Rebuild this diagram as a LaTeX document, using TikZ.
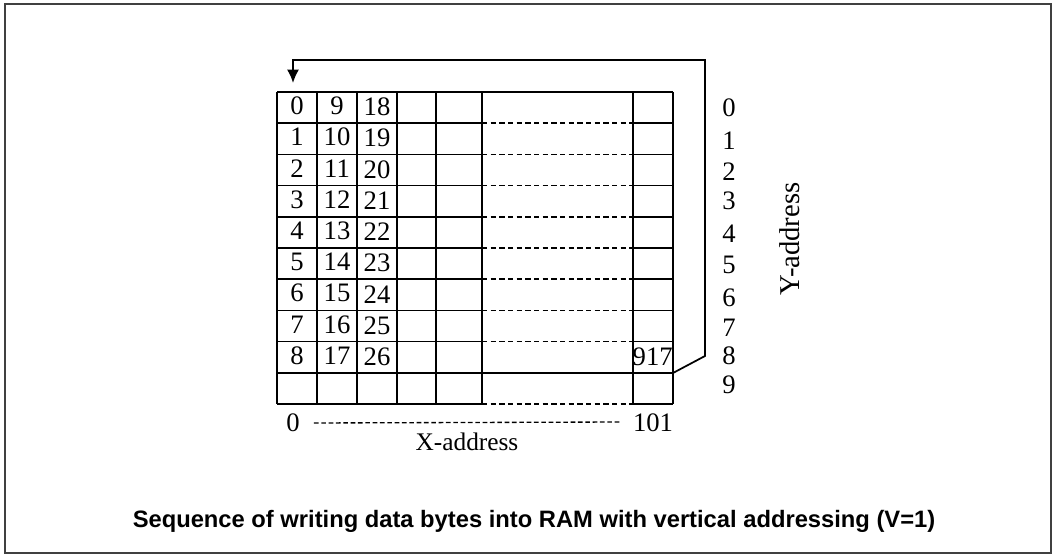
\documentclass[tikz,border=0pt]{standalone}
\usepackage{fontspec}
\setmainfont{Liberation Serif}
\setsansfont{Liberation Sans}
\usetikzlibrary{arrows.meta}

\begin{document}
\begin{tikzpicture}[x=0.75pt,y=-0.75pt,
        grid/.style={line width=1.3pt},
        gap/.style={line width=1.2pt,dash pattern=on 4pt off 2.5pt},
        num/.style={font=\fontsize{20}{20}\selectfont,inner sep=0pt}]
                \useasboundingbox (0,0) rectangle (1056,555);
                \draw[line width=0.8pt,black!75] (5,4) rectangle (1051,553);

                \foreach \c in {277,317,357,397,436,482,633,673}
                    \draw[grid] (\c,92) -- (\c,404);
                \draw[grid] (277,92) -- (673,92);
                \draw[grid] (277,373) -- (673,373);
                \foreach \r in {1,...,8,10} {
                    \draw[grid] (277,{92+31.2*\r}) -- (482,{92+31.2*\r});
                    \draw[gap] (482,{92+31.2*\r}) -- (633,{92+31.2*\r});
                    \draw[grid] (633,{92+31.2*\r}) -- (673,{92+31.2*\r});
                }

                \foreach \r in {0,...,8} {
                    \pgfmathtruncatemacro{\b}{\r+9}
                    \pgfmathtruncatemacro{\d}{\r+18}
                    \node[num] (a\r) at (297,{106+31.2*\r}) {\r};
                    \node[num] (b\r) at (337,{106+31.2*\r}) {\b};
                    \node[num] (d\r) at (377,{107+31.2*\r}) {\d};
                }
                \node[num,anchor=east] (last) at (673,357) {917};

                \foreach \r/\y in {0/108,1/141,2/172,3/201,4/234,5/265,6/298,7/328,8/356,9/385}
                    \node[num] (y\r) at (729,\y) {\r};
                \node[font=\fontsize{21.5}{21.5}\selectfont,rotate=90] (ylab) at (790,239) {Y-address};

                \node[num] (x0) at (293,423) {0};
                \node[num] (x101) at (653,423) {101};
                \draw[line width=1pt,dash pattern=on 3.5pt off 2pt] (x0.east)++(14,0) coordinate (xs) -- (620,422) coordinate (xe);
                \node[font=\fontsize{19}{19}\selectfont] (xlab) at (467,442) {X-address};

                \coordinate (corner) at (673,373);
                \coordinate (first) at (293,83);
                \draw[grid,-{Latex[length=10pt,width=9pt]}] (corner) -- ++(32,-17) -- ++(0,-296) -| (first);

                \node[font=\sffamily\bfseries\fontsize{17.8}{17.8}\selectfont] (cap) at (534,521)
                    {Sequence of writing data bytes into RAM with vertical addressing (V=1)};
            \end{tikzpicture}
\end{document}
